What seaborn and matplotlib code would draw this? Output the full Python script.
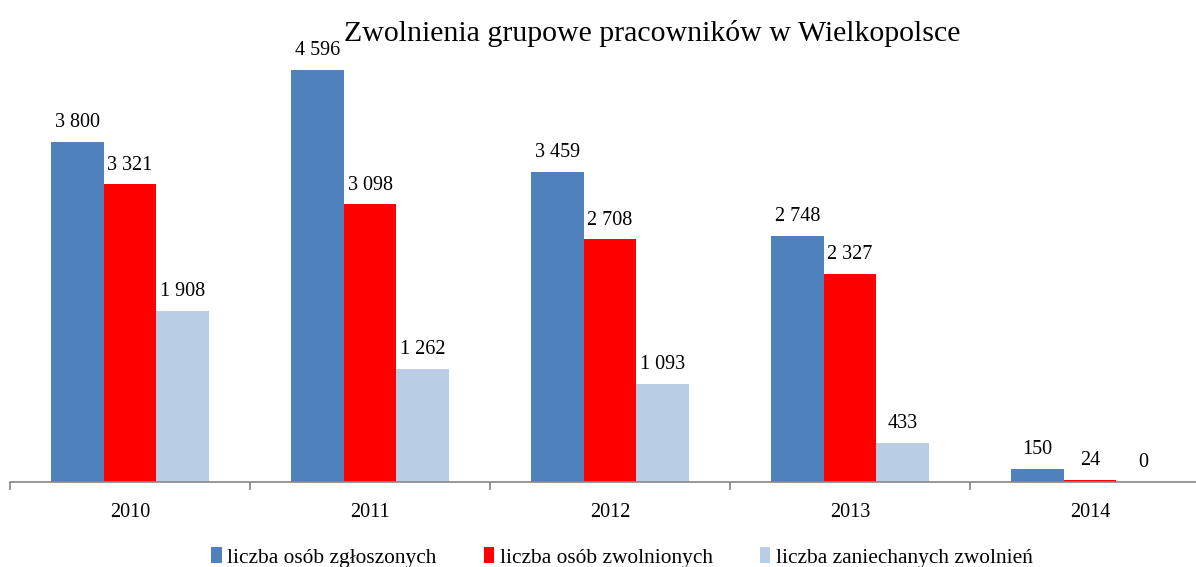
import matplotlib.pyplot as plt
import matplotlib.ticker as mticker
import pandas as pd
import seaborn as sns

years = ["2010", "2011", "2012", "2013", "2014"]
zgloszone = [3800, 4596, 3459, 2748, 150]
zwolnione = [3321, 3098, 2708, 2327, 24]
zaniechane = [1908, 1262, 1093, 433, 0]

series = ["liczba osób zgłoszonych", "liczba osób zwolnionych", "liczba zaniechanych zwolnień"]
colors = ["#4F81BD", "#FF0000", "#B9CDE5"]

df = pd.DataFrame({
    "rok": years * 3,
    "seria": [series[0]] * 5 + [series[1]] * 5 + [series[2]] * 5,
    "wartosc": zgloszone + zwolnione + zaniechane,
})

sns.set_theme(style="white")
plt.rcParams["font.family"] = ["Liberation Serif", "DejaVu Serif"]
plt.rcParams["text.color"] = "black"
plt.rcParams["xtick.color"] = "black"

fig = plt.figure(figsize=(11.96, 5.67), dpi=100)
# axes position in pixels: left 10, baseline at y=482, spans past right edge
ax = fig.add_axes([10 / 1196, 85 / 567, 1200 / 1196, 448 / 567])

sns.barplot(data=df, x="rok", y="wartosc", hue="seria", palette=colors,
            width=0.66, saturation=1, linewidth=0, ax=ax, legend=True)

for cont in ax.containers:
    ax.bar_label(cont, labels=[f"{int(v):,}".replace(",", " ") for v in cont.datavalues],
                 padding=7, fontsize=14.5, color="black")

ax.set_ylim(0, 5000)
ax.set_xlim(-0.5, 4.5)
ax.set_xlabel("")
ax.set_ylabel("")
ax.set_yticks([])
for s in ["top", "right", "left"]:
    ax.spines[s].set_visible(False)
ax.spines["bottom"].set_color("#868686")
ax.spines["bottom"].set_linewidth(1.2)

ax.xaxis.set_minor_locator(mticker.FixedLocator([-0.5 + i for i in range(6)]))
ax.tick_params(axis="x", which="major", length=0, labelsize=14.5, pad=15, labelcolor="black")
ax.tick_params(axis="x", which="minor", length=6, color="#868686", width=1.2, bottom=True)

ax.set_title("Zwolnienia grupowe pracowników w Wielkopolsce", fontsize=21.5,
             x=(652 - 10) / 1200, y=1.0, pad=-5, color="black")

handles, labels = ax.get_legend_handles_labels()
ax.get_legend().remove()
fig.legend(handles, labels, loc="lower center", bbox_to_anchor=(0.52, -0.035), ncol=3,
           frameon=False, fontsize=15.4, handlelength=0.5, handleheight=0.75,
           handletextpad=0.25, columnspacing=2.2)

fig.savefig("out.png", dpi=100)
